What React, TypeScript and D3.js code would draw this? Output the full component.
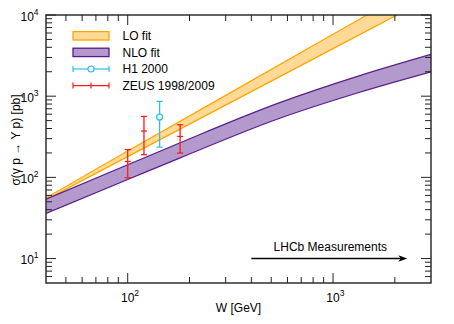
import React from 'react';
import * as d3 from 'd3';

// LO fit band (power law)
const loW = [40, 100, 300, 1000, 3000];
const loLow = [53, 180, 776, 3850, 16600];
const loHigh = [56, 211, 1023, 5780, 28100];

// NLO fit band
const nloW = [40, 100, 180, 550, 1350, 3000];
const nloLow = [36, 94, 174, 535, 1119, 1995];
const nloHigh = [54, 143, 267, 832, 1790, 3270];

// ZEUS 1998/2009
const zeusW = [100, 120, 180];
const zeusSigma = [157, 372, 319];
const zeusLo = [99, 190, 199];
const zeusHi = [220, 563, 445];

// H1 2000
const h1W = [143];
const h1Sigma = [553];
const h1Lo = [236];
const h1Hi = [863];

const xMajor = [100, 1000];
const yMajor = [10, 100, 1000, 10000];
const legendLabels = ['LO fit', 'NLO fit', 'H1 2000', 'ZEUS 1998/2009'];
const arrowW = [400, 2300];
const arrowSigma = 10;
const arrowLabel = 'LHCb Measurements';

const W = 454;
const H = 324;
const m = { left: 46, right: 23, top: 15, bottom: 41 };
const font = '"Liberation Sans", Arial, Helvetica, sans-serif';

const LO_FILL = '#ffda96';
const LO_STROKE = '#ffa500';
const NLO_FILL = '#b399cc';
const NLO_STROKE = '#561c8c';
const H1_COL = '#2cc0f0';
const ZEUS_COL = '#ff1a1a';
const AXIS = '#222';

const minorTicks = (lo: number, hi: number) => {
  const out: number[] = [];
  for (let e = Math.floor(Math.log10(lo)); e <= Math.ceil(Math.log10(hi)); e++) {
    for (let k = 2; k <= 9; k++) {
      const v = k * Math.pow(10, e);
      if (v > lo * 1.0001 && v < hi * 0.9999) out.push(v);
    }
  }
  return out;
};

export default function App() {
  const x = d3.scaleLog().domain([40, 3000]).range([m.left, W - m.right]);
  const y = d3.scaleLog().domain([5, 10000]).range([H - m.bottom, m.top]);
  const [x0, x1] = x.range();
  const [y0, y1] = y.range();

  const band = (ws: number[], lo: number[], hi: number[], curve: d3.CurveFactory) => {
    const idx = ws.map((_, i) => i);
    const area = d3
      .area<number>()
      .x((i) => x(ws[i]))
      .y0((i) => y(lo[i]))
      .y1((i) => y(hi[i]))
      .curve(curve);
    const line = (arr: number[]) =>
      d3
        .line<number>()
        .x((i) => x(ws[i]))
        .y((i) => y(arr[i]))
        .curve(curve)(idx) || '';
    return { fill: area(idx) || '', top: line(hi), bottom: line(lo) };
  };

  const lo = band(loW, loLow, loHigh, d3.curveLinear);
  const nlo = band(nloW, nloLow, nloHigh, d3.curveMonotoneX);

  const xMinor = minorTicks(40, 3000);
  const yMinor = minorTicks(5, 10000);

  const cap = 3;
  const legX0 = 73;
  const legX1 = 109;
  const legY = (i: number) => 35.8 + i * 16.6;

  return (
    <svg
      width={W}
      height={H}
      style={{ position: 'absolute', left: 0, top: 0, background: '#fff' }}
      fontFamily={font}
    >
      <defs>
        <clipPath id="plot">
          <rect x={x0} y={y1} width={x1 - x0} height={y0 - y1} />
        </clipPath>
      </defs>

      <g clipPath="url(#plot)">
        <path d={lo.fill} fill={LO_FILL} />
        <path d={lo.top} fill="none" stroke={LO_STROKE} strokeWidth={1.2} />
        <path d={lo.bottom} fill="none" stroke={LO_STROKE} strokeWidth={1.2} />
        <path d={nlo.fill} fill={NLO_FILL} />
        <path d={nlo.top} fill="none" stroke={NLO_STROKE} strokeWidth={1.2} />
        <path d={nlo.bottom} fill="none" stroke={NLO_STROKE} strokeWidth={1.2} />
      </g>

      {/* ZEUS points */}
      {zeusW.map((w, i) => (
        <g key={'z' + i} stroke={ZEUS_COL} strokeWidth={1.3}>
          <line x1={x(w)} x2={x(w)} y1={y(zeusLo[i])} y2={y(zeusHi[i])} />
          <line x1={x(w) - cap} x2={x(w) + cap} y1={y(zeusLo[i])} y2={y(zeusLo[i])} />
          <line x1={x(w) - cap} x2={x(w) + cap} y1={y(zeusHi[i])} y2={y(zeusHi[i])} />
          <line x1={x(w) - cap} x2={x(w) + cap} y1={y(zeusSigma[i])} y2={y(zeusSigma[i])} />
        </g>
      ))}

      {/* H1 points */}
      {h1W.map((w, i) => (
        <g key={'h' + i} stroke={H1_COL} strokeWidth={1.3} fill="none">
          <line x1={x(w)} x2={x(w)} y1={y(h1Lo[i])} y2={y(h1Sigma[i]) + 3} />
          <line x1={x(w)} x2={x(w)} y1={y(h1Sigma[i]) - 3} y2={y(h1Hi[i])} />
          <line x1={x(w) - cap} x2={x(w) + cap} y1={y(h1Lo[i])} y2={y(h1Lo[i])} />
          <line x1={x(w) - cap} x2={x(w) + cap} y1={y(h1Hi[i])} y2={y(h1Hi[i])} />
          <circle cx={x(w)} cy={y(h1Sigma[i])} r={3} />
        </g>
      ))}

      {/* frame and ticks */}
      <rect x={x0} y={y1} width={x1 - x0} height={y0 - y1} fill="none" stroke={AXIS} strokeWidth={1.4} />
      <g stroke={AXIS} strokeWidth={1}>
        {xMajor.map((v) => (
          <g key={'xM' + v}>
            <line x1={x(v)} x2={x(v)} y1={y0} y2={y0 - 10} />
            <line x1={x(v)} x2={x(v)} y1={y1} y2={y1 + 10} />
          </g>
        ))}
        {xMinor.map((v) => (
          <g key={'xm' + v}>
            <line x1={x(v)} x2={x(v)} y1={y0} y2={y0 - 6} />
            <line x1={x(v)} x2={x(v)} y1={y1} y2={y1 + 6} />
          </g>
        ))}
        {yMajor.map((v) => (
          <g key={'yM' + v}>
            <line x1={x0} x2={x0 + 10} y1={y(v)} y2={y(v)} />
            <line x1={x1} x2={x1 - 10} y1={y(v)} y2={y(v)} />
          </g>
        ))}
        {yMinor.map((v) => (
          <g key={'ym' + v}>
            <line x1={x0} x2={x0 + 6} y1={y(v)} y2={y(v)} />
            <line x1={x1} x2={x1 - 6} y1={y(v)} y2={y(v)} />
          </g>
        ))}
      </g>

      {/* tick labels */}
      <g fontSize={12} fill="#000">
        {xMajor.map((v) => (
          <text key={'xl' + v} x={x(v) - 6.7} y={302}>
            10
            <tspan fontSize={8.5} dy={-6}>
              {Math.round(Math.log10(v))}
            </tspan>
          </text>
        ))}
        {yMajor.map((v) => (
          <text key={'yl' + v} x={20.5} y={y(v) + 5.5}>
            10
            <tspan fontSize={8.5} dy={-6}>
              {Math.round(Math.log10(v))}
            </tspan>
          </text>
        ))}
      </g>

      {/* axis titles */}
      <text x={(x0 + x1) / 2} y={312} fontSize={12} textAnchor="middle">
        W [GeV]
      </text>
      <text
        transform={`translate(20,${(y0 + y1) / 2 - 9}) rotate(-90)`}
        fontSize={12}
        textAnchor="middle"
      >
        σ(γ p → Υ p) [pb]
      </text>

      {/* legend */}
      <rect x={legX0} y={legY(0) - 4.2} width={legX1 - legX0} height={8.4} fill={LO_FILL} stroke={LO_STROKE} strokeWidth={1.3} />
      <rect x={legX0} y={legY(1) - 4.2} width={legX1 - legX0} height={8.4} fill={NLO_FILL} stroke={NLO_STROKE} strokeWidth={1.3} />
      <g stroke={H1_COL} strokeWidth={1.2} fill="none">
        <line x1={legX0} x2={(legX0 + legX1) / 2 - 3} y1={legY(2)} y2={legY(2)} />
        <line x1={(legX0 + legX1) / 2 + 3} x2={legX1} y1={legY(2)} y2={legY(2)} />
        <line x1={legX0} x2={legX0} y1={legY(2) - cap} y2={legY(2) + cap} />
        <line x1={legX1} x2={legX1} y1={legY(2) - cap} y2={legY(2) + cap} />
        <circle cx={(legX0 + legX1) / 2} cy={legY(2)} r={3} />
      </g>
      <g stroke={ZEUS_COL} strokeWidth={1.2}>
        <line x1={legX0} x2={legX1} y1={legY(3)} y2={legY(3)} />
        <line x1={legX0} x2={legX0} y1={legY(3) - cap} y2={legY(3) + cap} />
        <line x1={legX1} x2={legX1} y1={legY(3) - cap} y2={legY(3) + cap} />
        <line x1={(legX0 + legX1) / 2} x2={(legX0 + legX1) / 2} y1={legY(3) - cap} y2={legY(3) + cap} />
      </g>
      {legendLabels.map((t, i) => (
        <text key={t} x={122.5} y={legY(i) + 4.3} fontSize={12}>
          {t}
        </text>
      ))}

      {/* LHCb arrow */}
      <line
        x1={x(arrowW[0])}
        x2={x(arrowW[1]) - 6}
        y1={y(arrowSigma)}
        y2={y(arrowSigma)}
        stroke="#000"
        strokeWidth={1.4}
      />
      <path
        d={`M${x(arrowW[1])},${y(arrowSigma)} l-9,-3.2 l2.5,3.2 l-2.5,3.2 z`}
        fill="#000"
      />
      <text x={(x(arrowW[0]) + x(arrowW[1])) / 2 + 1} y={y(arrowSigma) - 7.5} fontSize={12} textAnchor="middle">
        {arrowLabel}
      </text>
    </svg>
  );
}
